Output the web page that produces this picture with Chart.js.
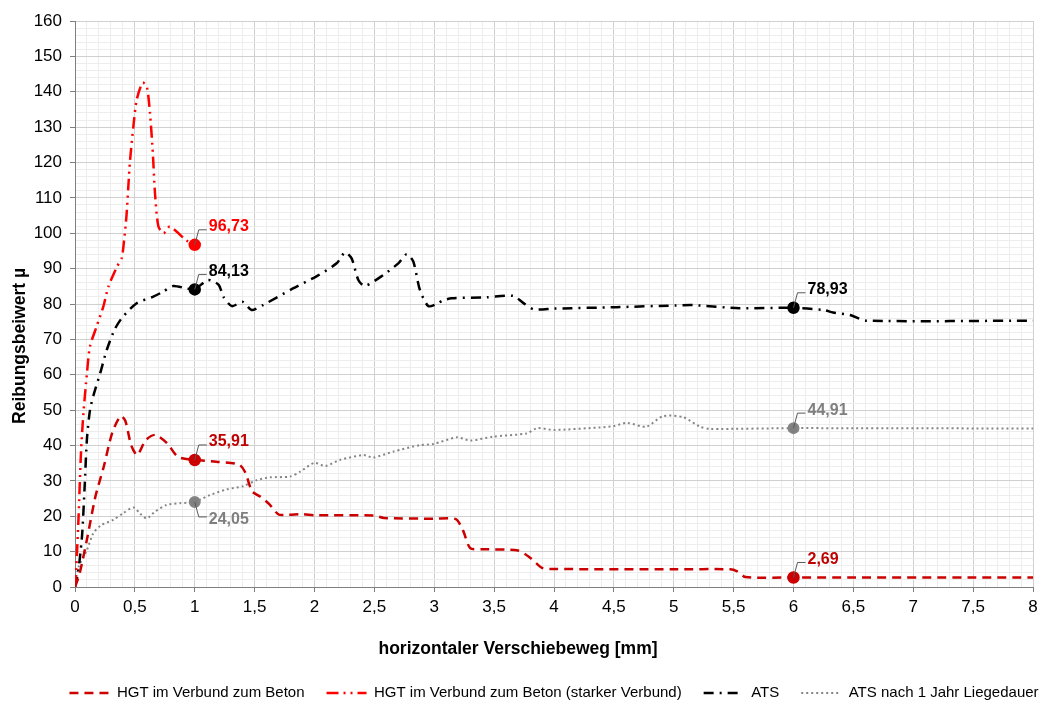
<!DOCTYPE html>
<html>
<head>
<meta charset="utf-8">
<script src="https://cdn.jsdelivr.net/npm/chart.js@4.4.1/dist/chart.umd.min.js"></script>
<style>
  body { margin: 0; background: #fff; }
  canvas { display: block; }
</style>
</head>
<body>
<canvas id="chart_reibung" width="1050" height="702"></canvas>
<script>
// Weg [mm] und Reibungsbeiwert je Versuchsreihe
var hgtX = [0, 0.04, 0.1, 0.17, 0.24, 0.31, 0.38, 0.42, 0.47, 0.52, 0.59, 0.67, 0.77, 0.86, 1, 1.18, 1.37, 1.42, 1.48, 1.55, 1.62, 1.7, 1.78, 1.9, 2, 2.5, 2.58, 3, 3.18, 3.24, 3.3, 3.4, 3.7, 3.8, 3.9, 4, 5, 5.47, 5.53, 5.6, 6, 8];
var hgtY = [0, 4, 13.5, 25.5, 34, 43.5, 48.3, 47, 40, 37.3, 41.5, 43, 40.6, 36.8, 35.91, 35.4, 34.6, 32.5, 27, 25.5, 23.5, 20.5, 20.4, 20.6, 20.3, 20.2, 19.5, 19.3, 19.2, 16, 11, 10.7, 10.3, 8.3, 5.4, 5.1, 5.0, 5.0, 4.4, 2.8, 2.69, 2.69];

var hgtStarkX = [0, 0.01, 0.03, 0.05, 0.07, 0.1, 0.125, 0.18, 0.236, 0.28, 0.35, 0.39, 0.41, 0.43, 0.445, 0.46, 0.49, 0.515, 0.565, 0.6, 0.626, 0.65, 0.668, 0.696, 0.74, 0.79, 0.85, 0.93, 1];
var hgtStarkY = [0, 5, 20, 38, 49, 60.5, 68, 73.6, 79.2, 85, 90.5, 93, 98, 105, 113, 120.7, 131, 137.7, 142.6, 141.4, 134, 122.6, 111.3, 102, 100, 101.9, 100.4, 98, 96.73];

var atsX = [0, 0.02, 0.04, 0.06, 0.08, 0.1, 0.125, 0.153, 0.21, 0.265, 0.334, 0.4, 0.515, 0.654, 0.737, 0.82, 0.93, 1, 1.11, 1.2, 1.24, 1.31, 1.4, 1.475, 1.57, 1.82, 2.02, 2.185, 2.255, 2.31, 2.366, 2.42, 2.575, 2.7, 2.77, 2.825, 2.88, 2.95, 3.02, 3.07, 3.146, 3.44, 3.66, 3.74, 3.83, 4, 4.52, 5.02, 5.16, 5.55, 6, 6.25, 6.33, 6.47, 6.61, 8];
var atsY = [0, 3, 8, 15, 28, 42, 50, 54, 60.4, 67, 73, 76.4, 80.2, 82.1, 83.5, 85.1, 84.4, 84.13, 86.8, 85.4, 82, 79.4, 80.6, 78.3, 79.7, 84.4, 87.9, 91.5, 94.6, 92.9, 86.8, 85.1, 88.2, 91.5, 94.1, 92, 84, 79.4, 80, 81, 81.6, 81.9, 82.3, 80.4, 78.5, 78.7, 79.1, 79.6, 79.7, 78.8, 78.93, 78.3, 77.6, 76.9, 75.3, 75.3];

var ats1JX = [0, 0.03, 0.1, 0.153, 0.22, 0.32, 0.4, 0.487, 0.543, 0.598, 0.668, 0.765, 0.877, 1, 1.127, 1.267, 1.405, 1.517, 1.628, 1.795, 1.88, 2, 2.09, 2.21, 2.41, 2.49, 2.66, 2.88, 2.99, 3.19, 3.3, 3.49, 3.77, 3.86, 4, 4.38, 4.5, 4.61, 4.77, 4.91, 5.08, 5.22, 5.3, 6, 8];
var ats1JY = [0, 5.7, 10.5, 15.2, 17.5, 19, 20.8, 22.5, 20.8, 19.4, 21.3, 23.2, 23.7, 24.05, 26, 27.6, 28.5, 30.2, 31, 31.2, 32.6, 35.1, 34.2, 35.9, 37.3, 36.6, 38.3, 40.1, 40.4, 42.3, 41.4, 42.5, 43.4, 44.9, 44.4, 45.1, 45.5, 46.4, 45.3, 48.3, 48, 45.3, 44.7, 44.91, 44.8];

var seriesNames = ['HGT im Verbund zum Beton', 'HGT im Verbund zum Beton (starker Verbund)', 'ATS', 'ATS nach 1 Jahr Liegedauer'];
var markedX = [1, 6];

function pts(xs, ys) {
	return xs.map(function (x, i) { return { x: x, y: ys[i] }; });
}

function komma(v, d) {
	return (d === undefined ? String(v) : v.toFixed(d)).replace('.', ',');
}

function isMarked(c) {
	return c.raw && markedX.indexOf(c.raw.x) >= 0;
}

var FONT = "Arial, 'Liberation Sans', sans-serif";

// Wertbeschriftungen mit Fuehrungslinie an den markierten Punkten
var wertLabels = {
	id: 'wertLabels',
	afterDatasetsDraw: function (chart) {
		var ctx = chart.ctx;
		ctx.save();
		chart.data.datasets.forEach(function (ds, di) {
			var meta = chart.getDatasetMeta(di);
			ds.data.forEach(function (p, i) {
				if (markedX.indexOf(p.x) < 0) return;
				var el = meta.data[i];
				var down = (di === 3 && p.x === 1);
				var s = down ? 1 : -1;
				ctx.strokeStyle = '#595959';
				ctx.lineWidth = 1;
				ctx.setLineDash([]);
				ctx.beginPath();
				ctx.moveTo(el.x, el.y);
				ctx.lineTo(el.x + 4, el.y + s * 15);
				ctx.lineTo(el.x + 12, el.y + s * 15);
				ctx.stroke();
				ctx.fillStyle = ds.labelColor;
				ctx.font = 'bold 16px ' + FONT;
				ctx.textAlign = 'left';
				ctx.textBaseline = 'middle';
				ctx.fillText(komma(p.y, 2), el.x + 14, el.y + s * 18);
			});
		});
		ctx.restore();
	}
};

// Achsentitel, Legende unter dem Diagrammbereich zentrieren
var achsTitel = {
	id: 'achsTitel',
	afterLayout: function (chart) {
		var lg = chart.legend;
		var dx = (chart.chartArea.left + chart.chartArea.right) / 2 - (lg.left + lg.right) / 2;
		lg.left += dx;
		lg.right += dx;
	},
	afterDraw: function (chart) {
		var ctx = chart.ctx;
		ctx.save();
		ctx.fillStyle = '#000';
		ctx.font = 'bold 17.5px ' + FONT;
		ctx.textAlign = 'center';
		ctx.textBaseline = 'middle';
		ctx.fillText('horizontaler Verschiebeweg [mm]', 518, 649);
		ctx.translate(20, 346);
		ctx.rotate(-Math.PI / 2);
		ctx.fillText('Reibungsbeiwert µ', 0, 0);
		ctx.restore();
	}
};

function majorX(v) { return Math.abs(v * 2 - Math.round(v * 2)) < 1e-6; }
function majorY(v) { return Math.abs(v / 10 - Math.round(v / 10)) < 1e-6; }

var ctx = document.getElementById('chart_reibung').getContext('2d');
var myChart = new Chart(ctx, {
	type: 'line',
	data: {
		datasets: [
			{
				label: seriesNames[0],
				data: pts(hgtX, hgtY),
				borderColor: '#CC0000',
				backgroundColor: '#CC0000',
				labelColor: '#C00000',
				borderWidth: 2.5,
				borderDash: [9, 6],
				tension: 0.25
			},
			{
				label: seriesNames[1],
				data: pts(hgtStarkX, hgtStarkY),
				borderColor: '#FF0000',
				backgroundColor: '#FF0000',
				labelColor: '#FF0000',
				borderWidth: 2.5,
				borderDash: [12, 5, 2, 5, 2, 5],
				tension: 0.25
			},
			{
				label: seriesNames[2],
				data: pts(atsX, atsY),
				borderColor: '#000000',
				backgroundColor: '#000000',
				labelColor: '#000000',
				borderWidth: 2.5,
				borderDash: [10, 6, 2, 6],
				tension: 0.25
			},
			{
				label: seriesNames[3],
				data: pts(ats1JX, ats1JY),
				borderColor: '#858585',
				backgroundColor: '#7F7F7F',
				labelColor: '#7F7F7F',
				borderWidth: 2,
				borderDash: [2, 3],
				tension: 0.25
			}
		]
	},
	options: {
		responsive: false,
		animation: false,
		layout: { padding: { left: 0, right: 17, top: 21, bottom: -8.5 } },
		elements: {
			point: {
				radius: function (c) { return isMarked(c) ? 5 : 0; },
				hoverRadius: 0,
				borderWidth: 0
			}
		},
		scales: {
			x: {
				type: 'linear',
				min: 0,
				max: 8,
				afterFit: function (s) { s.height = 76.5; },
				border: { color: '#7F7F7F', width: 1 },
				grid: {
					color: function (c) { return majorX(c.tick.value) ? '#D0D0D0' : '#EDEDED'; },
					tickColor: function (c) { return majorX(c.tick.value) ? '#7F7F7F' : 'rgba(0,0,0,0)'; },
					tickLength: 5
				},
				ticks: {
					stepSize: 0.1,
					autoSkip: false,
					maxRotation: 0,
					padding: 5,
					color: '#000',
					font: { family: FONT, size: 17 },
					callback: function (v) { return majorX(v) ? komma(Math.round(v * 2) / 2) : ''; }
				}
			},
			y: {
				min: 0,
				max: 160,
				afterFit: function (s) { s.width = 75; },
				border: { color: '#7F7F7F', width: 1 },
				grid: {
					color: function (c) { return majorY(c.tick.value) ? '#D0D0D0' : '#EDEDED'; },
					tickColor: function (c) { return majorY(c.tick.value) ? '#7F7F7F' : 'rgba(0,0,0,0)'; },
					tickLength: 5
				},
				ticks: {
					stepSize: 2,
					autoSkip: false,
					padding: 8,
					color: '#000',
					font: { family: FONT, size: 17 },
					callback: function (v) { return majorY(v) ? String(Math.round(v)) : ''; }
				}
			}
		},
		plugins: {
			tooltip: { enabled: false },
			legend: {
				display: true,
				position: 'bottom',
				labels: {
					usePointStyle: true,
					pointStyle: 'line',
					pointStyleWidth: 40,
					padding: 22,
					color: '#000',
					font: { family: FONT, size: 15 },
					// Linienmuster der Datenreihe im Legendeneintrag
					generateLabels: function (chart) {
						var items = Chart.defaults.plugins.legend.labels.generateLabels(chart);
						items.forEach(function (it) {
							var ds = chart.data.datasets[it.datasetIndex];
							it.lineDash = ds.borderDash;
							it.strokeStyle = ds.borderColor;
							it.lineWidth = ds.borderWidth;
						});
						return items;
					}
				}
			}
		}
	},
	plugins: [wertLabels, achsTitel]
});
</script>
</body>
</html>
